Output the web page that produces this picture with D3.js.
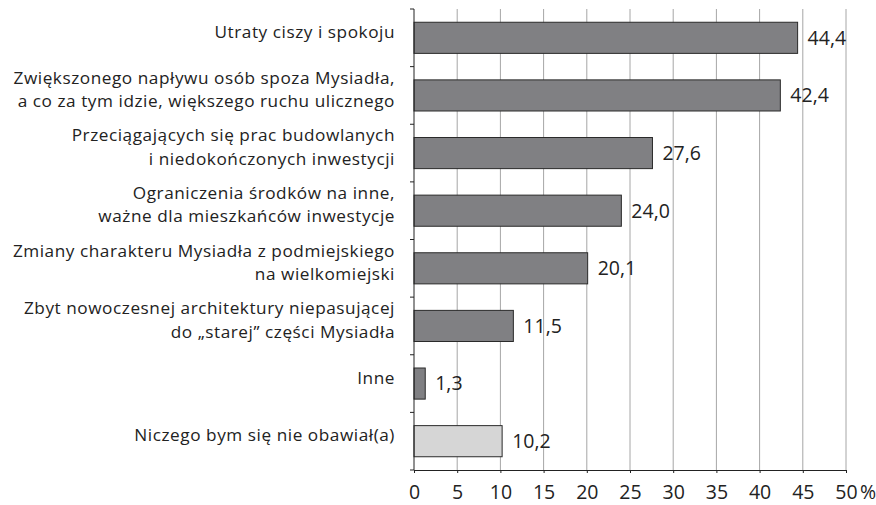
<!DOCTYPE html>
<html>
<head>
<meta charset="utf-8">
<script src="https://cdn.jsdelivr.net/npm/d3@7"></script>
<style>
  body { margin: 0; background: #fff; }
  text { font-family: "Open Sans", "Noto Sans", sans-serif; fill: #222; }
</style>
</head>
<body>
<div id="chart"></div>
<script>
'use strict';

var categories = [
  ['Utraty ciszy i spokoju'],
  ['Zwiększonego napływu osób spoza Mysiadła,', 'a co za tym idzie, większego ruchu ulicznego'],
  ['Przeciągających się prac budowlanych', 'i niedokończonych inwestycji'],
  ['Ograniczenia środków na inne,', 'ważne dla mieszkańców inwestycje'],
  ['Zmiany charakteru Mysiadła z podmiejskiego', 'na wielkomiejski'],
  ['Zbyt nowoczesnej architektury niepasującej', 'do „starej” części Mysiadła'],
  ['Inne'],
  ['Niczego bym się nie obawiał(a)']
];
var values = [44.4, 42.4, 27.6, 24.0, 20.1, 11.5, 1.3, 10.2];
var xTicks = [0, 5, 10, 15, 20, 25, 30, 35, 40, 45, 50];

var width = 876, height = 505;
var margin = {top: 9, right: 30, bottom: 35, left: 414};

var svg = d3.select('#chart').append('svg')
  .attr('width', width)
  .attr('height', height);

var x = d3.scaleLinear()
  .domain([0, 50])
  .range([margin.left, 846]);

var y = d3.scaleBand()
  .domain(d3.range(categories.length))
  .range([margin.top, height - margin.bottom])
  .paddingInner(0.46)
  .paddingOuter(0.23);

var bottom = height - margin.bottom;

// gridlines
svg.append('g')
  .selectAll('line')
  .data(xTicks.slice(1))
  .enter().append('line')
  .attr('x1', function(d) { return x(d); })
  .attr('x2', function(d) { return x(d); })
  .attr('y1', margin.top)
  .attr('y2', bottom)
  .attr('stroke', '#a6a6a6')
  .attr('stroke-width', 1);

// bars
svg.append('g')
  .selectAll('rect')
  .data(values)
  .enter().append('rect')
  .attr('x', x(0))
  .attr('y', function(d, i) { return y(i); })
  .attr('width', function(d) { return x(d) - x(0); })
  .attr('height', y.bandwidth())
  .attr('fill', function(d, i) { return i === values.length - 1 ? '#d6d6d6' : '#808083'; })
  .attr('stroke', '#2a2a2a')
  .attr('stroke-width', 1);

// value labels
svg.append('g')
  .selectAll('text')
  .data(values)
  .enter().append('text')
  .attr('x', function(d) { return x(d) + 10; })
  .attr('y', function(d, i) { return y(i) + y.bandwidth() / 2; })
  .attr('dy', '0.35em')
  .style('font-size', '19.5px')
  .text(function(d) { return d3.format('.1f')(d).replace('.', ','); });

// y axis line + ticks at band boundaries
var step = y.step();
var yAxis = svg.append('g');
yAxis.append('line')
  .attr('x1', x(0)).attr('x2', x(0))
  .attr('y1', margin.top).attr('y2', bottom)
  .attr('stroke', '#222');
yAxis.selectAll('line.tick')
  .data(d3.range(categories.length + 1))
  .enter().append('line')
  .attr('class', 'tick')
  .attr('x1', x(0) - 4).attr('x2', x(0))
  .attr('y1', function(i) { return margin.top + i * step; })
  .attr('y2', function(i) { return margin.top + i * step; })
  .attr('stroke', '#222');

// category labels
var lineH = 23.5;
var labels = svg.append('g')
  .selectAll('text')
  .data(categories)
  .enter().append('text')
  .attr('text-anchor', 'end')
  .style('font-size', '17.2px')
  .style('letter-spacing', '0.55px');
labels.each(function(lines, i) {
  var cy = y(i) + y.bandwidth() / 2 - 6;
  d3.select(this).selectAll('tspan')
    .data(lines)
    .enter().append('tspan')
    .attr('x', 395)
    .attr('y', function(d, j) { return cy + (j - (lines.length - 1) / 2) * lineH; })
    .attr('dy', '0.35em')
    .text(function(d) { return d; });
});

// x axis
var xAxis = svg.append('g')
  .attr('transform', 'translate(0,' + bottom + ')')
  .call(d3.axisBottom(x).tickValues(xTicks).tickSize(3).tickPadding(12).tickSizeOuter(0));
xAxis.select('.domain').attr('stroke', '#222');
xAxis.selectAll('.tick line').attr('stroke', '#222');
xAxis.selectAll('.tick text')
  .style('font-family', '"Open Sans", "Noto Sans", sans-serif')
  .style('font-size', '19.5px')
  .attr('fill', '#222');

svg.append('text')
  .attr('x', 860)
  .attr('y', bottom + 15)
  .attr('dy', '0.71em')
  .style('font-size', '19.5px')
  .text('%');
</script>
</body>
</html>
